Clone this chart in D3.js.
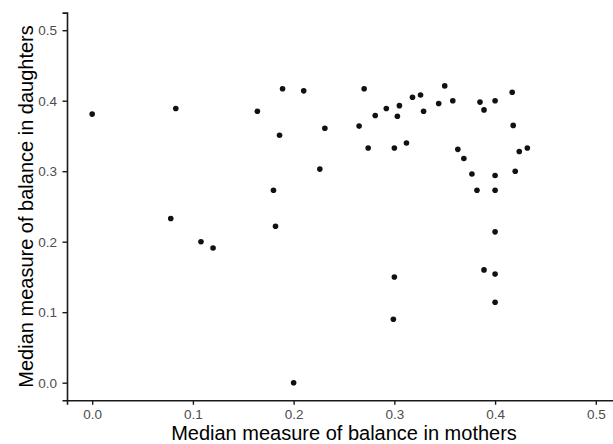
<!DOCTYPE html>
<html>
<head>
<meta charset="utf-8">
<script src="https://cdn.jsdelivr.net/npm/d3@7"></script>
<style>
  html, body { margin: 0; padding: 0; background: #fff; }
  svg { display: block; }
</style>
</head>
<body>
<svg id="chart" width="613" height="444"></svg>
<script>
// Data
const mothers = [
  0.000, 0.083, 0.078, 0.108, 0.120, 0.164, 0.189, 0.210, 0.186, 0.231,
  0.226, 0.180, 0.182, 0.200, 0.265, 0.270, 0.274, 0.281, 0.292, 0.300,
  0.303, 0.305, 0.312, 0.318, 0.326, 0.329, 0.344, 0.350, 0.358, 0.363,
  0.369, 0.377, 0.382, 0.385, 0.389, 0.400, 0.400, 0.400, 0.400, 0.389,
  0.400, 0.400, 0.417, 0.418, 0.424, 0.432, 0.420, 0.300, 0.299
];
const daughters = [
  0.381, 0.389, 0.233, 0.200, 0.191, 0.385, 0.417, 0.414, 0.351, 0.361,
  0.303, 0.273, 0.222, 0.000, 0.364, 0.417, 0.333, 0.379, 0.389, 0.333,
  0.378, 0.393, 0.340, 0.405, 0.408, 0.385, 0.396, 0.421, 0.400, 0.331,
  0.318, 0.296, 0.273, 0.398, 0.387, 0.400, 0.294, 0.273, 0.214, 0.160,
  0.154, 0.114, 0.412, 0.365, 0.328, 0.333, 0.300, 0.150, 0.090
];
const xTicks = [0.0, 0.1, 0.2, 0.3, 0.4, 0.5];
const yTicks = [0.0, 0.1, 0.2, 0.3, 0.4, 0.5];
const xTitle = "Median measure of balance in mothers";
const yTitle = "Median measure of balance in daughters";

const points = mothers.map((m, i) => ({ x: m, y: daughters[i] }));

const svg = d3.select("#chart");
const FONT = "'Liberation Sans', Arial, Helvetica, sans-serif";

const pLeft = 67, pRight = 621, pTop = 12.6, pBottom = 400.3;
const x = d3.scaleLinear().domain([-0.025, 0.525]).range([pLeft, pRight]);
const y = d3.scaleLinear().domain([-0.025, 0.525]).range([pBottom, pTop]);

// X axis
const gx = svg.append("g")
  .attr("transform", `translate(0,${pBottom})`)
  .call(d3.axisBottom(x).tickValues(xTicks).tickFormat(d3.format(".1f"))
        .tickSizeOuter(0).tickSize(4.5).tickPadding(4.5));
gx.select(".domain").attr("stroke", "#1a1a1a").attr("stroke-width", 1.6);
gx.selectAll(".tick line").attr("stroke", "#1a1a1a").attr("stroke-width", 1.4);
gx.selectAll(".tick text").attr("fill", "#4d4d4d")
  .style("font-family", FONT).style("font-size", "13.5px");

// Y axis
const gy = svg.append("g")
  .attr("transform", `translate(${pLeft},0)`)
  .call(d3.axisLeft(y).tickValues(yTicks).tickFormat(d3.format(".1f"))
        .tickSizeOuter(0).tickSize(4.5).tickPadding(5.5));
gy.select(".domain").attr("stroke", "#1a1a1a").attr("stroke-width", 1.6);
gy.selectAll(".tick line").attr("stroke", "#1a1a1a").attr("stroke-width", 1.4);
gy.selectAll(".tick text").attr("fill", "#4d4d4d")
  .style("font-family", FONT).style("font-size", "13.5px");

// Points
svg.append("g").selectAll("circle")
  .data(points)
  .join("circle")
  .attr("cx", d => x(d.x))
  .attr("cy", d => y(d.y))
  .attr("r", 2.8)
  .attr("fill", "#111");

// Titles
svg.append("text")
  .attr("x", (pLeft + pRight) / 2)
  .attr("y", 440)
  .attr("text-anchor", "middle")
  .attr("fill", "#000")
  .style("font-family", FONT).style("font-size", "20px")
  .text(xTitle);

svg.append("text")
  .attr("transform", `translate(33,${(pTop + pBottom) / 2}) rotate(-90)`)
  .attr("text-anchor", "middle")
  .attr("fill", "#000")
  .style("font-family", FONT).style("font-size", "20px")
  .text(yTitle);
</script>
</body>
</html>
